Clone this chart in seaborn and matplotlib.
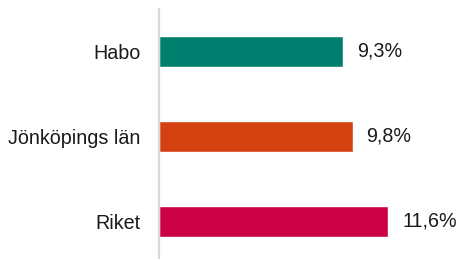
import matplotlib
matplotlib.use("Agg")
import matplotlib.pyplot as plt
import pandas as pd
import seaborn as sns

categories = ["Habo", "Jönköpings län", "Riket"]
values = [9.3, 9.8, 11.6]
colors = ["#007E6E", "#D54011", "#CC0044"]

df = pd.DataFrame({"omrade": categories, "andel": values})

sns.set_theme(style="white")
plt.rcParams["font.family"] = ["Liberation Sans", "DejaVu Sans"]

fig = plt.figure(figsize=(4.64, 2.60), dpi=100)
ax = fig.add_axes([159 / 464, 2 / 260, 1 - 159 / 464, 249 / 260])

sns.barplot(data=df, x="andel", y="omrade", hue="omrade", palette=colors,
            orient="h", width=0.365, legend=False, ax=ax, saturation=1)

for cont, v in zip(ax.containers, values):
    ax.bar_label(cont, labels=[f"{v:.1f}%".replace(".", ",")], padding=10,
                 fontsize=14.2, color="#1a1a1a")

ax.set_xlim(0, 305 / 19.76)
ax.set_ylim(2.43, -0.5)
ax.set_xlabel("")
ax.set_ylabel("")
ax.set_xticks([])
ax.tick_params(axis="y", length=0, pad=13.5, labelsize=14.2, labelcolor="#1a1a1a")
for s in ["top", "right", "bottom"]:
    ax.spines[s].set_visible(False)
ax.spines["left"].set_color("#D9D9D9")
ax.spines["left"].set_linewidth(1.6)

fig.savefig("out.png", dpi=100)
